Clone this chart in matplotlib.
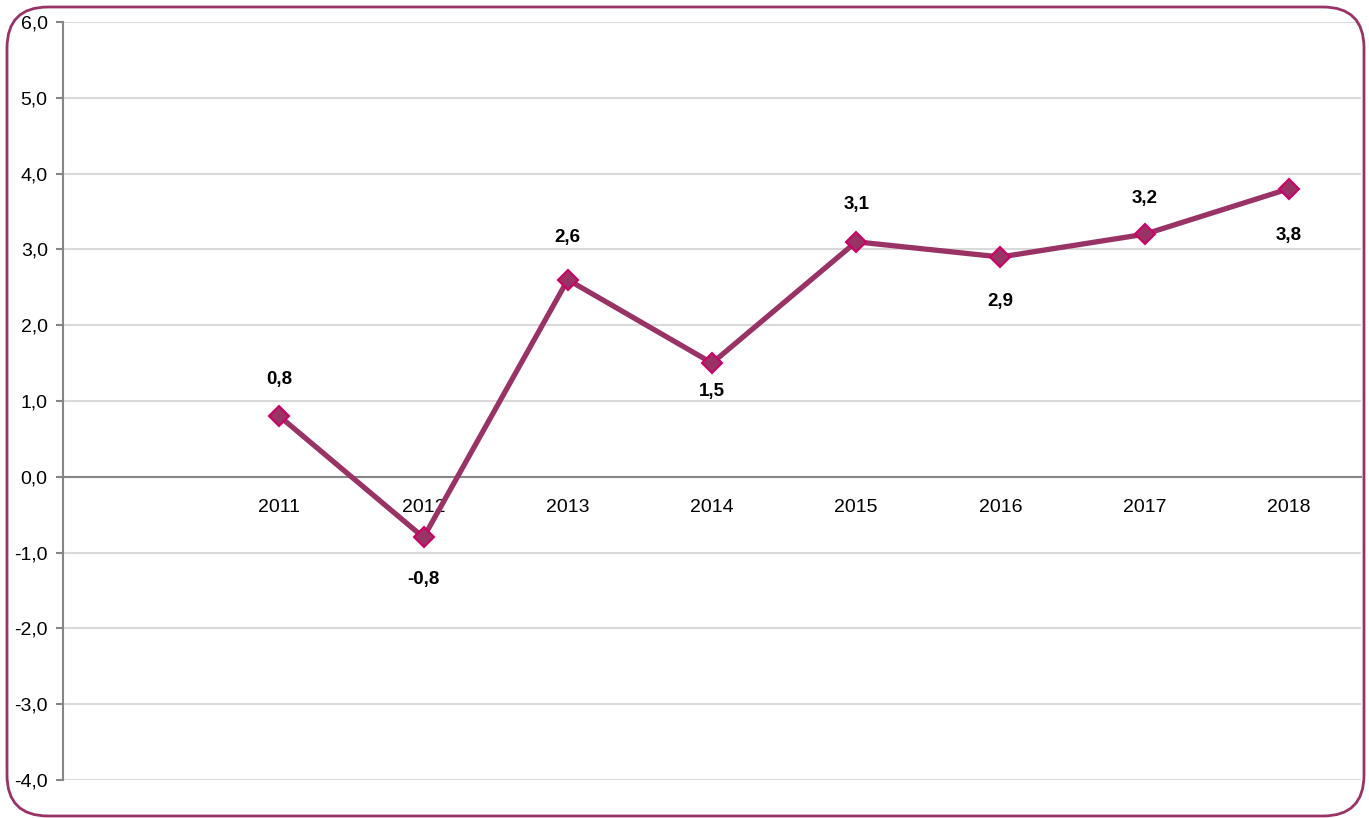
import matplotlib
matplotlib.use("Agg")
import matplotlib.pyplot as plt
from matplotlib.patches import FancyBboxPatch

years = ["2011", "2012", "2013", "2014", "2015", "2016", "2017", "2018"]
values = [0.8, -0.8, 2.6, 1.5, 3.1, 2.9, 3.2, 3.8]
yticks = [-4, -3, -2, -1, 0, 1, 2, 3, 4, 5, 6]

# label offsets in pixels (positive = above the point)
label_offsets = [37, -42, 42, -28, 37, -45, 36, -47]

plt.rcParams["font.family"] = ["Liberation Sans", "DejaVu Sans"]

W, H = 1369, 818
fig = plt.figure(figsize=(W / 100, H / 100), dpi=100)
ax = fig.add_axes([63 / W, 1 - 780 / H, (1361 - 63) / W, (780 - 22) / H])

line_col = "#993366"
edge_col = "#cc0066"

for s in ["top", "right"]:
    ax.spines[s].set_visible(False)
ax.spines["left"].set_color("#868686")
ax.spines["left"].set_linewidth(1.5)
ax.spines["bottom"].set_position(("data", 0))
ax.spines["bottom"].set_color("#868686")
ax.spines["bottom"].set_linewidth(1.5)

xs = [i + 1 for i in range(len(years))]
ax.plot(xs, values, color=line_col, lw=3.8, marker="D", ms=10,
        markerfacecolor=line_col, markeredgecolor=edge_col, markeredgewidth=1.5,
        zorder=5, solid_joinstyle="miter")

for x, v, off in zip(xs, values, label_offsets):
    ax.annotate(f"{v:.1f}".replace(".", ","), (x, v), xytext=(0, off),
                textcoords="offset pixels", ha="center", va="center",
                fontsize=13.5, fontweight="bold", color="black")

ax.set_xlim(-0.5, 8.5)
ax.set_ylim(-4, 6)
ax.set_yticks(yticks)
ax.set_yticklabels([f"{t:.1f}".replace(".", ",") for t in yticks])
ax.yaxis.grid(True, color="#d9d9d9", lw=1.5)
ax.set_axisbelow(True)

ax.set_xticks(xs)
ax.set_xticklabels(years)
ax.tick_params(axis="x", length=0, pad=16, labelsize=14)
ax.tick_params(axis="y", length=5, width=1.5, color="#868686", pad=6, labelsize=14)

box = FancyBboxPatch((7 / W, 1 - 816 / H), (1364 - 7) / W, (816 - 7) / H,
                     boxstyle="round,pad=0,rounding_size=0.03",
                     transform=fig.transFigure, fill=False,
                     edgecolor=line_col, lw=2, mutation_aspect=W / H)
fig.patches.append(box)

fig.savefig("out.png", dpi=100)
